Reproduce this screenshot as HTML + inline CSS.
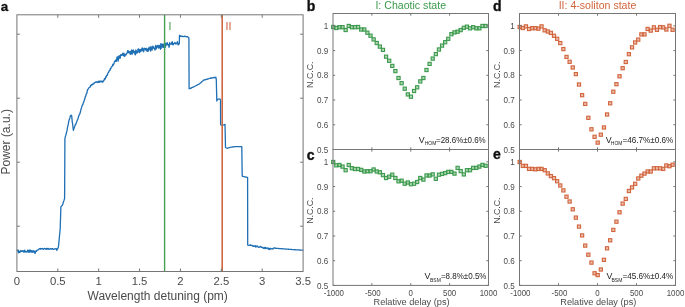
<!DOCTYPE html>
<html><head><meta charset="utf-8"><style>
html,body{margin:0;padding:0;background:#fff;}
svg{display:block;font-family:"Liberation Sans", sans-serif;}
svg{will-change:transform;}
</style></head><body>
<svg width="685" height="307" viewBox="0 0 685 307">
<rect width="685" height="307" fill="#fff"/>
<path d="M16.90,250.33 17.25,250.13 17.60,250.86 17.95,251.10 18.30,250.12 18.65,252.95 19.00,252.15 19.35,251.39 19.70,252.39 20.05,252.26 20.40,251.20 20.75,250.40 21.10,251.55 21.45,251.32 21.80,250.85 22.15,251.02 22.50,251.41 22.85,250.70 23.20,251.70 23.55,251.39 23.90,252.14 24.25,250.67 24.60,250.25 24.95,251.84 25.30,251.08 25.65,251.86 26.00,252.14 26.35,251.69 26.70,251.40 27.05,252.05 27.40,251.14 27.75,250.10 28.10,251.57 28.45,252.00 28.80,250.91 29.15,250.01 29.50,250.37 29.85,252.26 30.20,251.60 30.55,250.15 30.90,251.32 31.25,252.00 31.60,250.65 31.95,250.85 32.30,252.34 32.65,251.09 33.00,251.16 33.35,250.61 33.70,251.80 34.05,252.33 34.40,251.24 34.75,251.64 35.10,253.55 35.45,251.94 35.80,250.95 36.15,250.91 36.50,251.22 36.85,250.43 37.20,250.22 37.55,250.14 37.90,249.87 38.25,249.83 38.60,249.33 38.95,249.06 39.30,248.99 39.65,248.72 40.00,248.76 40.35,248.43 40.70,249.27 41.05,249.01 41.40,248.55 41.75,248.65 42.10,248.75 42.45,248.76 42.80,248.52 43.15,249.25 43.50,249.39 43.85,248.87 44.20,248.88 44.55,248.49 44.90,248.50 45.25,248.74 45.60,248.66 45.95,249.23 46.30,248.56 46.65,248.42 47.00,249.35 47.35,248.93 47.70,248.55 48.05,248.94 48.40,248.43 48.75,248.93 49.10,249.38 49.45,249.26 49.80,249.10 50.15,248.66 50.50,248.77 50.85,248.57 51.20,249.17 51.55,248.93 51.90,249.18 52.25,248.73 52.60,248.62 52.95,249.21 53.30,249.38 53.65,249.25 54.00,249.21 54.35,249.22 54.70,249.14 55.05,248.63 55.40,248.92 55.75,248.76 56.10,248.62 56.45,248.62 56.80,250.27 57.30,249.31 57.80,248.62 58.20,247.37 58.60,245.67 59.05,240.86 59.50,235.79 59.85,232.32 60.20,228.52 60.70,212.70 60.90,206.84 61.30,206.27 61.70,205.72 62.10,205.42 62.50,205.04 62.87,203.87 63.23,202.52 63.60,201.49 64.10,200.13 64.60,198.50 64.80,160.00 64.90,139.00 65.20,137.21 65.63,135.88 66.07,134.28 66.50,132.65 66.93,130.95 67.37,128.08 67.80,126.23 68.23,124.45 68.67,121.85 69.10,119.89 69.53,119.19 69.97,117.65 70.40,115.74 70.83,115.46 71.27,115.25 71.70,115.85 72.30,122.34 72.67,124.21 73.03,127.56 73.40,130.33 73.80,129.00 74.20,127.69 74.60,126.93 75.00,125.49 75.37,124.42 75.74,124.53 76.11,123.24 76.49,122.16 76.86,121.66 77.23,120.17 77.60,119.71 77.97,118.73 78.34,117.13 78.71,116.24 79.09,115.36 79.46,114.37 79.83,113.82 80.20,112.54 80.67,110.84 81.13,108.66 81.60,107.65 81.96,106.11 82.31,105.27 82.67,104.56 83.03,104.21 83.39,102.41 83.74,102.38 84.10,100.70 84.50,99.67 84.90,98.58 85.30,96.58 85.70,96.26 86.10,94.71 86.50,93.31 86.93,93.11 87.37,90.34 87.80,89.25 88.20,89.23 88.60,88.44 89.00,87.55 89.40,87.41 89.80,87.00 90.20,87.00 90.60,85.36 91.00,85.76 91.40,84.78 91.80,84.42 92.20,84.89 92.57,84.15 92.93,83.98 93.30,84.07 93.67,84.08 94.03,82.96 94.40,83.00 94.77,82.54 95.13,82.29 95.50,82.35 95.86,81.86 96.21,81.95 96.57,81.79 96.92,82.57 97.28,82.08 97.63,82.34 97.99,82.41 98.34,81.12 98.70,81.61 99.06,82.37 99.41,82.25 99.77,81.06 100.13,81.10 100.49,81.75 100.84,81.16 101.20,81.53 101.60,81.09 102.00,82.03 102.40,82.09 102.80,82.15 103.20,80.68 103.63,81.02 104.07,80.26 104.50,78.66 104.87,79.35 105.24,78.86 105.61,76.87 105.99,77.54 106.36,75.90 106.73,75.42 107.10,75.68 107.45,74.81 107.81,73.01 108.16,72.90 108.52,72.46 108.87,71.56 109.23,70.71 109.58,70.34 109.94,70.47 110.29,68.62 110.65,68.99 111.00,68.19 111.37,66.78 111.74,66.68 112.11,66.55 112.49,65.69 112.86,64.23 113.23,65.23 113.60,64.22 113.99,63.99 114.37,61.87 114.76,61.61 115.14,60.64 115.53,61.42 115.91,59.94 116.30,61.36 116.67,59.65 117.04,57.15 117.41,56.91 117.79,58.81 118.16,61.15 118.53,57.49 118.90,55.94 119.25,55.65 119.61,56.46 119.96,58.57 120.32,57.56 120.67,54.98 121.03,54.51 121.38,55.44 121.74,55.25 122.09,54.53 122.45,55.19 122.80,53.21 123.17,54.09 123.55,55.77 123.92,53.18 124.30,55.04 124.67,56.40 125.05,55.63 125.42,54.41 125.80,54.62 126.17,54.90 126.55,53.30 126.92,53.49 127.30,52.21 127.68,50.72 128.05,52.41 128.43,50.88 128.81,52.91 129.18,52.09 129.56,52.36 129.94,51.68 130.32,54.43 130.69,51.56 131.07,53.84 131.45,50.17 131.82,50.13 132.20,54.19 132.56,50.93 132.92,52.01 133.28,49.87 133.64,51.41 134.01,52.89 134.37,51.44 134.73,52.33 135.09,54.74 135.45,54.85 135.81,49.93 136.17,53.46 136.53,50.99 136.89,51.57 137.26,51.53 137.62,52.75 137.98,49.12 138.34,49.72 138.70,48.91 139.06,51.19 139.42,52.65 139.78,49.65 140.14,51.23 140.51,51.68 140.87,49.30 141.23,50.56 141.59,50.88 141.95,48.15 142.31,50.20 142.67,48.02 143.03,49.23 143.39,51.73 143.76,51.31 144.12,48.98 144.48,48.23 144.84,48.86 145.20,49.26 145.56,49.96 145.92,48.50 146.28,48.30 146.64,50.43 147.01,51.12 147.37,49.06 147.73,49.33 148.09,51.37 148.45,48.36 148.81,50.26 149.17,47.16 149.53,49.05 149.89,48.16 150.26,47.78 150.62,51.05 150.98,46.32 151.34,48.07 151.70,48.53 152.06,50.00 152.42,48.23 152.78,46.24 153.14,46.34 153.51,48.14 153.87,47.90 154.23,48.36 154.59,48.89 154.95,50.18 155.31,46.66 155.67,45.40 156.03,48.94 156.39,48.87 156.76,46.19 157.12,46.70 157.48,45.40 157.84,47.07 158.20,45.37 158.57,48.13 158.94,46.96 159.31,47.63 159.67,45.30 160.04,47.47 160.41,49.24 160.78,43.70 161.15,48.34 161.52,44.22 161.89,44.10 162.26,44.05 162.62,47.22 162.99,47.31 163.36,44.10 163.73,47.00 164.10,47.52 164.45,43.68 164.80,44.08 165.15,44.96 165.50,47.15 165.85,43.27 166.20,45.09 166.55,43.61 166.90,44.55 167.25,42.61 167.60,43.90 167.95,45.03 168.30,44.50 168.65,44.84 169.00,47.27 169.35,45.93 169.70,42.74 170.05,44.33 170.40,44.35 170.77,44.06 171.14,43.50 171.51,42.79 171.89,44.27 172.26,41.68 172.63,44.55 173.00,44.08 173.37,44.78 173.74,43.50 174.11,43.54 174.49,42.76 174.86,42.58 175.23,43.61 175.60,43.91 175.98,42.81 176.36,43.66 176.73,43.25 177.11,43.77 177.49,41.67 177.87,44.22 178.24,44.84 178.62,44.05 179.30,43.90 179.50,35.30 180.00,35.80 180.50,36.30 181.04,36.05 181.59,36.57 182.13,36.14 182.68,36.31 183.22,36.69 183.77,36.70 184.31,36.20 184.86,36.25 185.40,36.42 185.98,36.67 186.56,36.73 187.14,36.68 187.72,36.94 188.30,37.30 188.90,38.20 189.10,88.70 189.70,88.53 190.30,88.43 190.90,87.87 191.50,88.07 192.05,87.44 192.60,87.42 193.15,87.13 193.70,86.90 194.25,86.47 194.80,86.26 195.40,86.02 196.00,85.61 196.60,85.40 197.20,84.97 197.73,84.74 198.27,84.30 198.80,84.36 199.30,83.87 199.80,83.33 200.30,83.17 200.80,82.76 201.30,82.18 201.90,81.56 202.50,81.24 203.10,80.58 203.70,80.11 204.21,80.10 204.72,79.77 205.24,79.78 205.75,79.66 206.26,79.26 206.78,79.39 207.29,78.95 207.80,79.12 208.31,78.99 208.83,78.71 209.34,78.33 209.85,78.40 210.36,78.19 210.88,78.33 211.39,77.77 211.90,77.98 212.40,77.99 212.90,77.79 213.40,77.77 213.90,77.40 214.40,77.73 214.90,77.42 215.40,77.59 215.90,77.30 216.30,79.80 216.80,101.00 217.60,99.30 218.20,99.22 218.80,99.15 219.40,99.08 220.00,99.00 220.50,100.00 220.60,124.70 221.13,124.97 221.67,125.23 222.20,125.50 222.76,125.26 223.32,125.02 223.88,124.78 224.44,124.54 225.00,124.30 225.50,147.50 226.03,147.77 226.57,148.03 227.10,148.30 227.61,148.15 228.12,148.00 228.64,147.85 229.15,147.70 229.66,147.55 230.17,147.40 230.69,147.25 231.20,147.10 231.73,147.04 232.27,146.99 232.80,146.93 233.33,146.88 233.87,146.82 234.40,146.77 234.93,146.71 235.47,146.66 236.00,146.60 236.53,146.60 237.05,146.60 237.58,146.60 238.11,146.60 238.64,146.60 239.16,146.60 239.69,146.60 240.22,146.60 240.75,146.60 241.27,146.60 241.80,146.60 242.20,176.10 242.70,176.26 243.20,176.42 243.70,176.58 244.20,176.74 244.70,176.90 245.28,177.00 245.86,177.10 246.44,177.20 247.02,177.30 247.60,177.40 247.70,245.10 248.20,245.19 248.70,245.28 249.20,245.37 249.70,245.46 250.20,244.76 250.70,245.41 251.20,245.11 251.70,245.60 252.20,245.48 252.70,246.14 253.20,246.24 253.73,245.70 254.26,246.44 254.79,246.27 255.32,245.79 255.85,247.14 256.38,246.11 256.92,246.02 257.45,246.01 257.98,246.94 258.51,247.39 259.04,247.31 259.57,246.77 260.10,246.62 260.60,246.32 261.10,247.43 261.60,247.40 262.10,247.16 262.60,247.73 263.10,247.51 263.60,248.40 264.10,248.17 264.60,247.50 265.11,248.67 265.62,247.41 266.13,248.32 266.64,248.24 267.16,248.09 267.67,247.93 268.18,249.20 268.69,248.10 269.20,249.08 269.72,249.65 270.25,248.32 270.77,248.36 271.29,248.96 271.82,248.74 272.34,248.90 272.86,249.12 273.38,248.05 273.91,248.21 274.43,248.14 274.95,247.69 275.48,248.35 276.00,248.30 276.51,248.34 277.02,248.38 277.53,248.42 278.04,248.46 278.56,248.49 279.07,248.53 279.58,248.57 280.09,248.61 280.60,248.65 281.11,248.69 281.62,248.73 282.13,248.77 282.64,248.81 283.16,248.84 283.67,248.88 284.18,248.92 284.69,248.96 285.20,249.00 285.71,249.04 286.21,249.08 286.72,249.12 287.22,249.16 287.73,249.19 288.23,249.23 288.74,249.27 289.24,249.31 289.75,249.35 290.26,249.39 290.76,249.43 291.27,249.47 291.77,249.51 292.28,249.54 292.78,249.58 293.29,249.62 293.79,249.66 294.30,249.70 294.80,249.73 295.30,249.76 295.80,249.78 296.30,249.81 296.80,249.84 297.30,249.87 297.80,249.89 298.30,249.92 298.80,249.95 299.30,249.98 299.80,250.01 300.30,250.03 300.80,250.06 301.30,250.09 301.80,250.12 302.30,250.14 302.80,250.17 303.30,250.20" fill="none" stroke="#1f6fb5" stroke-width="1.3" stroke-linejoin="round"/>
<line x1="164.6" y1="14.8" x2="164.6" y2="271.5" stroke="#44a052" stroke-width="1.4"/>
<line x1="222.2" y1="14.8" x2="222.2" y2="271.5" stroke="#cf6642" stroke-width="1.6"/>
<text x="168.6" y="29.8" font-size="10.5" fill="#3b9a4c">I</text>
<text x="225.6" y="29.8" font-size="10.5" fill="#cc5c38">II</text>
<rect x="16.9" y="14.8" width="286.20000000000005" height="256.7" fill="none" stroke="#767676" stroke-width="1"/>
<line x1="57.79" y1="271.5" x2="57.79" y2="268.5" stroke="#767676" stroke-width="1"/>
<line x1="57.79" y1="14.8" x2="57.79" y2="17.8" stroke="#767676" stroke-width="1"/>
<line x1="98.67" y1="271.5" x2="98.67" y2="268.5" stroke="#767676" stroke-width="1"/>
<line x1="98.67" y1="14.8" x2="98.67" y2="17.8" stroke="#767676" stroke-width="1"/>
<line x1="139.56" y1="271.5" x2="139.56" y2="268.5" stroke="#767676" stroke-width="1"/>
<line x1="139.56" y1="14.8" x2="139.56" y2="17.8" stroke="#767676" stroke-width="1"/>
<line x1="180.44" y1="271.5" x2="180.44" y2="268.5" stroke="#767676" stroke-width="1"/>
<line x1="180.44" y1="14.8" x2="180.44" y2="17.8" stroke="#767676" stroke-width="1"/>
<line x1="221.33" y1="271.5" x2="221.33" y2="268.5" stroke="#767676" stroke-width="1"/>
<line x1="221.33" y1="14.8" x2="221.33" y2="17.8" stroke="#767676" stroke-width="1"/>
<line x1="262.21" y1="271.5" x2="262.21" y2="268.5" stroke="#767676" stroke-width="1"/>
<line x1="262.21" y1="14.8" x2="262.21" y2="17.8" stroke="#767676" stroke-width="1"/>
<line x1="16.9" y1="34.2" x2="19.9" y2="34.2" stroke="#767676" stroke-width="1"/>
<line x1="303.1" y1="34.2" x2="300.1" y2="34.2" stroke="#767676" stroke-width="1"/>
<line x1="16.9" y1="98.2" x2="19.9" y2="98.2" stroke="#767676" stroke-width="1"/>
<line x1="303.1" y1="98.2" x2="300.1" y2="98.2" stroke="#767676" stroke-width="1"/>
<line x1="16.9" y1="162.2" x2="19.9" y2="162.2" stroke="#767676" stroke-width="1"/>
<line x1="303.1" y1="162.2" x2="300.1" y2="162.2" stroke="#767676" stroke-width="1"/>
<line x1="16.9" y1="226.2" x2="19.9" y2="226.2" stroke="#767676" stroke-width="1"/>
<line x1="303.1" y1="226.2" x2="300.1" y2="226.2" stroke="#767676" stroke-width="1"/>
<text x="16.90" y="285.3" font-size="11.3" fill="#4a4a4a" text-anchor="middle">0</text>
<text x="57.79" y="285.3" font-size="11.3" fill="#4a4a4a" text-anchor="middle">0.5</text>
<text x="98.67" y="285.3" font-size="11.3" fill="#4a4a4a" text-anchor="middle">1</text>
<text x="139.56" y="285.3" font-size="11.3" fill="#4a4a4a" text-anchor="middle">1.5</text>
<text x="180.44" y="285.3" font-size="11.3" fill="#4a4a4a" text-anchor="middle">2</text>
<text x="221.33" y="285.3" font-size="11.3" fill="#4a4a4a" text-anchor="middle">2.5</text>
<text x="262.21" y="285.3" font-size="11.3" fill="#4a4a4a" text-anchor="middle">3</text>
<text x="303.10" y="285.3" font-size="11.3" fill="#4a4a4a" text-anchor="middle">3.5</text>
<text x="157.7" y="299.9" font-size="12" fill="#4a4a4a" text-anchor="middle">Wavelength detuning (pm)</text>
<text transform="translate(9.5,141.8) rotate(-90)" font-size="12" fill="#4a4a4a" text-anchor="middle">Power (a.u.)</text>
<text x="0.8" y="10.7" font-size="13.4" font-weight="bold" fill="#111" stroke="#111" stroke-width="0.3">a</text>
<rect x="331.60" y="25.40" width="3.2" height="3.2" fill="#3b9a4c" fill-opacity="0.42" stroke="#3b9a4c" stroke-width="1.1"/>
<rect x="334.71" y="26.40" width="3.2" height="3.2" fill="#3b9a4c" fill-opacity="0.42" stroke="#3b9a4c" stroke-width="1.1"/>
<rect x="337.82" y="25.60" width="3.2" height="3.2" fill="#3b9a4c" fill-opacity="0.42" stroke="#3b9a4c" stroke-width="1.1"/>
<rect x="340.93" y="25.60" width="3.2" height="3.2" fill="#3b9a4c" fill-opacity="0.42" stroke="#3b9a4c" stroke-width="1.1"/>
<rect x="344.04" y="28.40" width="3.2" height="3.2" fill="#3b9a4c" fill-opacity="0.42" stroke="#3b9a4c" stroke-width="1.1"/>
<rect x="347.15" y="24.40" width="3.2" height="3.2" fill="#3b9a4c" fill-opacity="0.42" stroke="#3b9a4c" stroke-width="1.1"/>
<rect x="350.26" y="25.60" width="3.2" height="3.2" fill="#3b9a4c" fill-opacity="0.42" stroke="#3b9a4c" stroke-width="1.1"/>
<rect x="353.37" y="25.60" width="3.2" height="3.2" fill="#3b9a4c" fill-opacity="0.42" stroke="#3b9a4c" stroke-width="1.1"/>
<rect x="356.48" y="25.40" width="3.2" height="3.2" fill="#3b9a4c" fill-opacity="0.42" stroke="#3b9a4c" stroke-width="1.1"/>
<rect x="359.59" y="27.90" width="3.2" height="3.2" fill="#3b9a4c" fill-opacity="0.42" stroke="#3b9a4c" stroke-width="1.1"/>
<rect x="362.70" y="27.90" width="3.2" height="3.2" fill="#3b9a4c" fill-opacity="0.42" stroke="#3b9a4c" stroke-width="1.1"/>
<rect x="365.81" y="31.10" width="3.2" height="3.2" fill="#3b9a4c" fill-opacity="0.42" stroke="#3b9a4c" stroke-width="1.1"/>
<rect x="368.92" y="34.10" width="3.2" height="3.2" fill="#3b9a4c" fill-opacity="0.42" stroke="#3b9a4c" stroke-width="1.1"/>
<rect x="372.03" y="37.80" width="3.2" height="3.2" fill="#3b9a4c" fill-opacity="0.42" stroke="#3b9a4c" stroke-width="1.1"/>
<rect x="375.14" y="41.40" width="3.2" height="3.2" fill="#3b9a4c" fill-opacity="0.42" stroke="#3b9a4c" stroke-width="1.1"/>
<rect x="378.25" y="45.00" width="3.2" height="3.2" fill="#3b9a4c" fill-opacity="0.42" stroke="#3b9a4c" stroke-width="1.1"/>
<rect x="381.36" y="48.30" width="3.2" height="3.2" fill="#3b9a4c" fill-opacity="0.42" stroke="#3b9a4c" stroke-width="1.1"/>
<rect x="384.47" y="55.10" width="3.2" height="3.2" fill="#3b9a4c" fill-opacity="0.42" stroke="#3b9a4c" stroke-width="1.1"/>
<rect x="387.58" y="59.20" width="3.2" height="3.2" fill="#3b9a4c" fill-opacity="0.42" stroke="#3b9a4c" stroke-width="1.1"/>
<rect x="390.69" y="64.30" width="3.2" height="3.2" fill="#3b9a4c" fill-opacity="0.42" stroke="#3b9a4c" stroke-width="1.1"/>
<rect x="393.80" y="69.50" width="3.2" height="3.2" fill="#3b9a4c" fill-opacity="0.42" stroke="#3b9a4c" stroke-width="1.1"/>
<rect x="396.91" y="76.40" width="3.2" height="3.2" fill="#3b9a4c" fill-opacity="0.42" stroke="#3b9a4c" stroke-width="1.1"/>
<rect x="400.02" y="81.60" width="3.2" height="3.2" fill="#3b9a4c" fill-opacity="0.42" stroke="#3b9a4c" stroke-width="1.1"/>
<rect x="403.13" y="87.10" width="3.2" height="3.2" fill="#3b9a4c" fill-opacity="0.42" stroke="#3b9a4c" stroke-width="1.1"/>
<rect x="406.24" y="92.80" width="3.2" height="3.2" fill="#3b9a4c" fill-opacity="0.42" stroke="#3b9a4c" stroke-width="1.1"/>
<rect x="409.35" y="95.10" width="3.2" height="3.2" fill="#3b9a4c" fill-opacity="0.42" stroke="#3b9a4c" stroke-width="1.1"/>
<rect x="412.46" y="89.40" width="3.2" height="3.2" fill="#3b9a4c" fill-opacity="0.42" stroke="#3b9a4c" stroke-width="1.1"/>
<rect x="415.57" y="85.70" width="3.2" height="3.2" fill="#3b9a4c" fill-opacity="0.42" stroke="#3b9a4c" stroke-width="1.1"/>
<rect x="418.68" y="79.80" width="3.2" height="3.2" fill="#3b9a4c" fill-opacity="0.42" stroke="#3b9a4c" stroke-width="1.1"/>
<rect x="421.79" y="76.40" width="3.2" height="3.2" fill="#3b9a4c" fill-opacity="0.42" stroke="#3b9a4c" stroke-width="1.1"/>
<rect x="424.90" y="68.40" width="3.2" height="3.2" fill="#3b9a4c" fill-opacity="0.42" stroke="#3b9a4c" stroke-width="1.1"/>
<rect x="428.01" y="62.30" width="3.2" height="3.2" fill="#3b9a4c" fill-opacity="0.42" stroke="#3b9a4c" stroke-width="1.1"/>
<rect x="431.12" y="57.00" width="3.2" height="3.2" fill="#3b9a4c" fill-opacity="0.42" stroke="#3b9a4c" stroke-width="1.1"/>
<rect x="434.23" y="52.50" width="3.2" height="3.2" fill="#3b9a4c" fill-opacity="0.42" stroke="#3b9a4c" stroke-width="1.1"/>
<rect x="437.34" y="47.90" width="3.2" height="3.2" fill="#3b9a4c" fill-opacity="0.42" stroke="#3b9a4c" stroke-width="1.1"/>
<rect x="440.45" y="44.00" width="3.2" height="3.2" fill="#3b9a4c" fill-opacity="0.42" stroke="#3b9a4c" stroke-width="1.1"/>
<rect x="443.56" y="40.60" width="3.2" height="3.2" fill="#3b9a4c" fill-opacity="0.42" stroke="#3b9a4c" stroke-width="1.1"/>
<rect x="446.67" y="37.20" width="3.2" height="3.2" fill="#3b9a4c" fill-opacity="0.42" stroke="#3b9a4c" stroke-width="1.1"/>
<rect x="449.78" y="32.60" width="3.2" height="3.2" fill="#3b9a4c" fill-opacity="0.42" stroke="#3b9a4c" stroke-width="1.1"/>
<rect x="452.89" y="30.80" width="3.2" height="3.2" fill="#3b9a4c" fill-opacity="0.42" stroke="#3b9a4c" stroke-width="1.1"/>
<rect x="456.00" y="30.10" width="3.2" height="3.2" fill="#3b9a4c" fill-opacity="0.42" stroke="#3b9a4c" stroke-width="1.1"/>
<rect x="459.11" y="28.50" width="3.2" height="3.2" fill="#3b9a4c" fill-opacity="0.42" stroke="#3b9a4c" stroke-width="1.1"/>
<rect x="462.22" y="26.20" width="3.2" height="3.2" fill="#3b9a4c" fill-opacity="0.42" stroke="#3b9a4c" stroke-width="1.1"/>
<rect x="465.33" y="25.10" width="3.2" height="3.2" fill="#3b9a4c" fill-opacity="0.42" stroke="#3b9a4c" stroke-width="1.1"/>
<rect x="468.44" y="26.70" width="3.2" height="3.2" fill="#3b9a4c" fill-opacity="0.42" stroke="#3b9a4c" stroke-width="1.1"/>
<rect x="471.55" y="25.60" width="3.2" height="3.2" fill="#3b9a4c" fill-opacity="0.42" stroke="#3b9a4c" stroke-width="1.1"/>
<rect x="474.66" y="26.70" width="3.2" height="3.2" fill="#3b9a4c" fill-opacity="0.42" stroke="#3b9a4c" stroke-width="1.1"/>
<rect x="477.77" y="26.70" width="3.2" height="3.2" fill="#3b9a4c" fill-opacity="0.42" stroke="#3b9a4c" stroke-width="1.1"/>
<rect x="480.88" y="24.40" width="3.2" height="3.2" fill="#3b9a4c" fill-opacity="0.42" stroke="#3b9a4c" stroke-width="1.1"/>
<rect x="483.99" y="24.40" width="3.2" height="3.2" fill="#3b9a4c" fill-opacity="0.42" stroke="#3b9a4c" stroke-width="1.1"/>
<rect x="333.0" y="13.5" width="155.5" height="136.0" fill="none" stroke="#767676" stroke-width="1"/>
<line x1="371.88" y1="149.5" x2="371.88" y2="147.3" stroke="#767676" stroke-width="1"/>
<line x1="371.88" y1="13.5" x2="371.88" y2="15.7" stroke="#767676" stroke-width="1"/>
<line x1="410.75" y1="149.5" x2="410.75" y2="147.3" stroke="#767676" stroke-width="1"/>
<line x1="410.75" y1="13.5" x2="410.75" y2="15.7" stroke="#767676" stroke-width="1"/>
<line x1="449.62" y1="149.5" x2="449.62" y2="147.3" stroke="#767676" stroke-width="1"/>
<line x1="449.62" y1="13.5" x2="449.62" y2="15.7" stroke="#767676" stroke-width="1"/>
<line x1="333.0" y1="149.50" x2="335.2" y2="149.50" stroke="#767676" stroke-width="1"/>
<line x1="488.5" y1="149.50" x2="486.3" y2="149.50" stroke="#767676" stroke-width="1"/>
<text transform="translate(328.20,152.60) scale(0.95,1)" font-size="8.5" fill="#4a4a4a" text-anchor="end">0.5</text>
<line x1="333.0" y1="124.77" x2="335.2" y2="124.77" stroke="#767676" stroke-width="1"/>
<line x1="488.5" y1="124.77" x2="486.3" y2="124.77" stroke="#767676" stroke-width="1"/>
<text transform="translate(328.20,127.87) scale(0.95,1)" font-size="8.5" fill="#4a4a4a" text-anchor="end">0.6</text>
<line x1="333.0" y1="100.05" x2="335.2" y2="100.05" stroke="#767676" stroke-width="1"/>
<line x1="488.5" y1="100.05" x2="486.3" y2="100.05" stroke="#767676" stroke-width="1"/>
<text transform="translate(328.20,103.15) scale(0.95,1)" font-size="8.5" fill="#4a4a4a" text-anchor="end">0.7</text>
<line x1="333.0" y1="75.32" x2="335.2" y2="75.32" stroke="#767676" stroke-width="1"/>
<line x1="488.5" y1="75.32" x2="486.3" y2="75.32" stroke="#767676" stroke-width="1"/>
<text transform="translate(328.20,78.42) scale(0.95,1)" font-size="8.5" fill="#4a4a4a" text-anchor="end">0.8</text>
<line x1="333.0" y1="50.59" x2="335.2" y2="50.59" stroke="#767676" stroke-width="1"/>
<line x1="488.5" y1="50.59" x2="486.3" y2="50.59" stroke="#767676" stroke-width="1"/>
<text transform="translate(328.20,53.69) scale(0.95,1)" font-size="8.5" fill="#4a4a4a" text-anchor="end">0.9</text>
<line x1="333.0" y1="25.86" x2="335.2" y2="25.86" stroke="#767676" stroke-width="1"/>
<line x1="488.5" y1="25.86" x2="486.3" y2="25.86" stroke="#767676" stroke-width="1"/>
<text transform="translate(328.20,28.96) scale(0.95,1)" font-size="8.5" fill="#4a4a4a" text-anchor="end">1</text>
<text transform="translate(313.00,74.70) rotate(-90)" font-size="8.8" fill="#4a4a4a" text-anchor="middle">N.C.C.</text>
<text x="418.80" y="142.7" font-size="8.9" fill="#222">V</text>
<text x="424.70" y="145.30" font-size="4.5" fill="#222" textLength="11.60" lengthAdjust="spacingAndGlyphs">HOM</text>
<text x="436.00" y="142.7" font-size="8.9" fill="#222" textLength="49.70" lengthAdjust="spacingAndGlyphs">=28.6%±0.6%</text>
<rect x="331.60" y="160.40" width="3.2" height="3.2" fill="#3b9a4c" fill-opacity="0.42" stroke="#3b9a4c" stroke-width="1.1"/>
<rect x="334.71" y="163.70" width="3.2" height="3.2" fill="#3b9a4c" fill-opacity="0.42" stroke="#3b9a4c" stroke-width="1.1"/>
<rect x="337.82" y="163.40" width="3.2" height="3.2" fill="#3b9a4c" fill-opacity="0.42" stroke="#3b9a4c" stroke-width="1.1"/>
<rect x="340.93" y="165.00" width="3.2" height="3.2" fill="#3b9a4c" fill-opacity="0.42" stroke="#3b9a4c" stroke-width="1.1"/>
<rect x="344.04" y="168.60" width="3.2" height="3.2" fill="#3b9a4c" fill-opacity="0.42" stroke="#3b9a4c" stroke-width="1.1"/>
<rect x="347.15" y="163.40" width="3.2" height="3.2" fill="#3b9a4c" fill-opacity="0.42" stroke="#3b9a4c" stroke-width="1.1"/>
<rect x="350.26" y="166.60" width="3.2" height="3.2" fill="#3b9a4c" fill-opacity="0.42" stroke="#3b9a4c" stroke-width="1.1"/>
<rect x="353.37" y="167.40" width="3.2" height="3.2" fill="#3b9a4c" fill-opacity="0.42" stroke="#3b9a4c" stroke-width="1.1"/>
<rect x="356.48" y="167.40" width="3.2" height="3.2" fill="#3b9a4c" fill-opacity="0.42" stroke="#3b9a4c" stroke-width="1.1"/>
<rect x="359.59" y="168.30" width="3.2" height="3.2" fill="#3b9a4c" fill-opacity="0.42" stroke="#3b9a4c" stroke-width="1.1"/>
<rect x="362.70" y="169.90" width="3.2" height="3.2" fill="#3b9a4c" fill-opacity="0.42" stroke="#3b9a4c" stroke-width="1.1"/>
<rect x="365.81" y="169.60" width="3.2" height="3.2" fill="#3b9a4c" fill-opacity="0.42" stroke="#3b9a4c" stroke-width="1.1"/>
<rect x="368.92" y="169.60" width="3.2" height="3.2" fill="#3b9a4c" fill-opacity="0.42" stroke="#3b9a4c" stroke-width="1.1"/>
<rect x="372.03" y="167.90" width="3.2" height="3.2" fill="#3b9a4c" fill-opacity="0.42" stroke="#3b9a4c" stroke-width="1.1"/>
<rect x="375.14" y="169.90" width="3.2" height="3.2" fill="#3b9a4c" fill-opacity="0.42" stroke="#3b9a4c" stroke-width="1.1"/>
<rect x="378.25" y="170.70" width="3.2" height="3.2" fill="#3b9a4c" fill-opacity="0.42" stroke="#3b9a4c" stroke-width="1.1"/>
<rect x="381.36" y="173.50" width="3.2" height="3.2" fill="#3b9a4c" fill-opacity="0.42" stroke="#3b9a4c" stroke-width="1.1"/>
<rect x="384.47" y="176.40" width="3.2" height="3.2" fill="#3b9a4c" fill-opacity="0.42" stroke="#3b9a4c" stroke-width="1.1"/>
<rect x="387.58" y="175.10" width="3.2" height="3.2" fill="#3b9a4c" fill-opacity="0.42" stroke="#3b9a4c" stroke-width="1.1"/>
<rect x="390.69" y="173.10" width="3.2" height="3.2" fill="#3b9a4c" fill-opacity="0.42" stroke="#3b9a4c" stroke-width="1.1"/>
<rect x="393.80" y="176.40" width="3.2" height="3.2" fill="#3b9a4c" fill-opacity="0.42" stroke="#3b9a4c" stroke-width="1.1"/>
<rect x="396.91" y="179.70" width="3.2" height="3.2" fill="#3b9a4c" fill-opacity="0.42" stroke="#3b9a4c" stroke-width="1.1"/>
<rect x="400.02" y="179.10" width="3.2" height="3.2" fill="#3b9a4c" fill-opacity="0.42" stroke="#3b9a4c" stroke-width="1.1"/>
<rect x="403.13" y="182.10" width="3.2" height="3.2" fill="#3b9a4c" fill-opacity="0.42" stroke="#3b9a4c" stroke-width="1.1"/>
<rect x="406.24" y="180.90" width="3.2" height="3.2" fill="#3b9a4c" fill-opacity="0.42" stroke="#3b9a4c" stroke-width="1.1"/>
<rect x="409.35" y="182.60" width="3.2" height="3.2" fill="#3b9a4c" fill-opacity="0.42" stroke="#3b9a4c" stroke-width="1.1"/>
<rect x="412.46" y="182.10" width="3.2" height="3.2" fill="#3b9a4c" fill-opacity="0.42" stroke="#3b9a4c" stroke-width="1.1"/>
<rect x="415.57" y="180.40" width="3.2" height="3.2" fill="#3b9a4c" fill-opacity="0.42" stroke="#3b9a4c" stroke-width="1.1"/>
<rect x="418.68" y="176.40" width="3.2" height="3.2" fill="#3b9a4c" fill-opacity="0.42" stroke="#3b9a4c" stroke-width="1.1"/>
<rect x="421.79" y="178.00" width="3.2" height="3.2" fill="#3b9a4c" fill-opacity="0.42" stroke="#3b9a4c" stroke-width="1.1"/>
<rect x="424.90" y="173.90" width="3.2" height="3.2" fill="#3b9a4c" fill-opacity="0.42" stroke="#3b9a4c" stroke-width="1.1"/>
<rect x="428.01" y="173.90" width="3.2" height="3.2" fill="#3b9a4c" fill-opacity="0.42" stroke="#3b9a4c" stroke-width="1.1"/>
<rect x="431.12" y="172.80" width="3.2" height="3.2" fill="#3b9a4c" fill-opacity="0.42" stroke="#3b9a4c" stroke-width="1.1"/>
<rect x="434.23" y="177.20" width="3.2" height="3.2" fill="#3b9a4c" fill-opacity="0.42" stroke="#3b9a4c" stroke-width="1.1"/>
<rect x="437.34" y="173.10" width="3.2" height="3.2" fill="#3b9a4c" fill-opacity="0.42" stroke="#3b9a4c" stroke-width="1.1"/>
<rect x="440.45" y="172.30" width="3.2" height="3.2" fill="#3b9a4c" fill-opacity="0.42" stroke="#3b9a4c" stroke-width="1.1"/>
<rect x="443.56" y="171.50" width="3.2" height="3.2" fill="#3b9a4c" fill-opacity="0.42" stroke="#3b9a4c" stroke-width="1.1"/>
<rect x="446.67" y="170.30" width="3.2" height="3.2" fill="#3b9a4c" fill-opacity="0.42" stroke="#3b9a4c" stroke-width="1.1"/>
<rect x="449.78" y="170.30" width="3.2" height="3.2" fill="#3b9a4c" fill-opacity="0.42" stroke="#3b9a4c" stroke-width="1.1"/>
<rect x="452.89" y="172.00" width="3.2" height="3.2" fill="#3b9a4c" fill-opacity="0.42" stroke="#3b9a4c" stroke-width="1.1"/>
<rect x="456.00" y="166.30" width="3.2" height="3.2" fill="#3b9a4c" fill-opacity="0.42" stroke="#3b9a4c" stroke-width="1.1"/>
<rect x="459.11" y="169.50" width="3.2" height="3.2" fill="#3b9a4c" fill-opacity="0.42" stroke="#3b9a4c" stroke-width="1.1"/>
<rect x="462.22" y="172.80" width="3.2" height="3.2" fill="#3b9a4c" fill-opacity="0.42" stroke="#3b9a4c" stroke-width="1.1"/>
<rect x="465.33" y="168.60" width="3.2" height="3.2" fill="#3b9a4c" fill-opacity="0.42" stroke="#3b9a4c" stroke-width="1.1"/>
<rect x="468.44" y="168.60" width="3.2" height="3.2" fill="#3b9a4c" fill-opacity="0.42" stroke="#3b9a4c" stroke-width="1.1"/>
<rect x="471.55" y="166.30" width="3.2" height="3.2" fill="#3b9a4c" fill-opacity="0.42" stroke="#3b9a4c" stroke-width="1.1"/>
<rect x="474.66" y="166.30" width="3.2" height="3.2" fill="#3b9a4c" fill-opacity="0.42" stroke="#3b9a4c" stroke-width="1.1"/>
<rect x="477.77" y="165.00" width="3.2" height="3.2" fill="#3b9a4c" fill-opacity="0.42" stroke="#3b9a4c" stroke-width="1.1"/>
<rect x="480.88" y="163.30" width="3.2" height="3.2" fill="#3b9a4c" fill-opacity="0.42" stroke="#3b9a4c" stroke-width="1.1"/>
<rect x="483.99" y="164.20" width="3.2" height="3.2" fill="#3b9a4c" fill-opacity="0.42" stroke="#3b9a4c" stroke-width="1.1"/>
<rect x="333.0" y="149.5" width="155.5" height="135.89999999999998" fill="none" stroke="#767676" stroke-width="1"/>
<line x1="371.88" y1="285.4" x2="371.88" y2="283.2" stroke="#767676" stroke-width="1"/>
<line x1="371.88" y1="149.5" x2="371.88" y2="151.7" stroke="#767676" stroke-width="1"/>
<line x1="410.75" y1="285.4" x2="410.75" y2="283.2" stroke="#767676" stroke-width="1"/>
<line x1="410.75" y1="149.5" x2="410.75" y2="151.7" stroke="#767676" stroke-width="1"/>
<line x1="449.62" y1="285.4" x2="449.62" y2="283.2" stroke="#767676" stroke-width="1"/>
<line x1="449.62" y1="149.5" x2="449.62" y2="151.7" stroke="#767676" stroke-width="1"/>
<line x1="333.0" y1="285.40" x2="335.2" y2="285.40" stroke="#767676" stroke-width="1"/>
<line x1="488.5" y1="285.40" x2="486.3" y2="285.40" stroke="#767676" stroke-width="1"/>
<text transform="translate(328.20,288.50) scale(0.95,1)" font-size="8.5" fill="#4a4a4a" text-anchor="end">0.5</text>
<line x1="333.0" y1="260.69" x2="335.2" y2="260.69" stroke="#767676" stroke-width="1"/>
<line x1="488.5" y1="260.69" x2="486.3" y2="260.69" stroke="#767676" stroke-width="1"/>
<text transform="translate(328.20,263.79) scale(0.95,1)" font-size="8.5" fill="#4a4a4a" text-anchor="end">0.6</text>
<line x1="333.0" y1="235.98" x2="335.2" y2="235.98" stroke="#767676" stroke-width="1"/>
<line x1="488.5" y1="235.98" x2="486.3" y2="235.98" stroke="#767676" stroke-width="1"/>
<text transform="translate(328.20,239.08) scale(0.95,1)" font-size="8.5" fill="#4a4a4a" text-anchor="end">0.7</text>
<line x1="333.0" y1="211.27" x2="335.2" y2="211.27" stroke="#767676" stroke-width="1"/>
<line x1="488.5" y1="211.27" x2="486.3" y2="211.27" stroke="#767676" stroke-width="1"/>
<text transform="translate(328.20,214.37) scale(0.95,1)" font-size="8.5" fill="#4a4a4a" text-anchor="end">0.8</text>
<line x1="333.0" y1="186.56" x2="335.2" y2="186.56" stroke="#767676" stroke-width="1"/>
<line x1="488.5" y1="186.56" x2="486.3" y2="186.56" stroke="#767676" stroke-width="1"/>
<text transform="translate(328.20,189.66) scale(0.95,1)" font-size="8.5" fill="#4a4a4a" text-anchor="end">0.9</text>
<line x1="333.0" y1="161.85" x2="335.2" y2="161.85" stroke="#767676" stroke-width="1"/>
<line x1="488.5" y1="161.85" x2="486.3" y2="161.85" stroke="#767676" stroke-width="1"/>
<text transform="translate(328.20,164.95) scale(0.95,1)" font-size="8.5" fill="#4a4a4a" text-anchor="end">1</text>
<text transform="translate(333.90,295.8) scale(0.93,1)" font-size="8.5" fill="#4a4a4a" text-anchor="middle">-1000</text>
<text transform="translate(372.77,295.8) scale(0.93,1)" font-size="8.5" fill="#4a4a4a" text-anchor="middle">-500</text>
<text transform="translate(410.75,295.8) scale(0.93,1)" font-size="8.5" fill="#4a4a4a" text-anchor="middle">0</text>
<text transform="translate(449.62,295.8) scale(0.93,1)" font-size="8.5" fill="#4a4a4a" text-anchor="middle">500</text>
<text transform="translate(488.50,295.8) scale(0.93,1)" font-size="8.5" fill="#4a4a4a" text-anchor="middle">1000</text>
<text x="411.55" y="304.7" font-size="9.2" fill="#4a4a4a" text-anchor="middle">Relative delay (ps)</text>
<text transform="translate(313.00,210.65) rotate(-90)" font-size="8.8" fill="#4a4a4a" text-anchor="middle">N.C.C.</text>
<text x="424.60" y="278.9" font-size="8.9" fill="#222">V</text>
<text x="430.00" y="281.50" font-size="4.5" fill="#222" textLength="10.90" lengthAdjust="spacingAndGlyphs">BSM</text>
<text x="440.90" y="278.9" font-size="8.9" fill="#222" textLength="45.60" lengthAdjust="spacingAndGlyphs">=8.8%±0.5%</text>
<rect x="518.10" y="25.40" width="3.2" height="3.2" fill="#d2643c" fill-opacity="0.42" stroke="#d2643c" stroke-width="1.1"/>
<rect x="521.22" y="26.40" width="3.2" height="3.2" fill="#d2643c" fill-opacity="0.42" stroke="#d2643c" stroke-width="1.1"/>
<rect x="524.34" y="24.80" width="3.2" height="3.2" fill="#d2643c" fill-opacity="0.42" stroke="#d2643c" stroke-width="1.1"/>
<rect x="527.46" y="27.40" width="3.2" height="3.2" fill="#d2643c" fill-opacity="0.42" stroke="#d2643c" stroke-width="1.1"/>
<rect x="530.58" y="26.60" width="3.2" height="3.2" fill="#d2643c" fill-opacity="0.42" stroke="#d2643c" stroke-width="1.1"/>
<rect x="533.70" y="26.60" width="3.2" height="3.2" fill="#d2643c" fill-opacity="0.42" stroke="#d2643c" stroke-width="1.1"/>
<rect x="536.82" y="27.00" width="3.2" height="3.2" fill="#d2643c" fill-opacity="0.42" stroke="#d2643c" stroke-width="1.1"/>
<rect x="539.94" y="24.80" width="3.2" height="3.2" fill="#d2643c" fill-opacity="0.42" stroke="#d2643c" stroke-width="1.1"/>
<rect x="543.06" y="28.70" width="3.2" height="3.2" fill="#d2643c" fill-opacity="0.42" stroke="#d2643c" stroke-width="1.1"/>
<rect x="546.18" y="29.90" width="3.2" height="3.2" fill="#d2643c" fill-opacity="0.42" stroke="#d2643c" stroke-width="1.1"/>
<rect x="549.30" y="31.30" width="3.2" height="3.2" fill="#d2643c" fill-opacity="0.42" stroke="#d2643c" stroke-width="1.1"/>
<rect x="552.42" y="34.20" width="3.2" height="3.2" fill="#d2643c" fill-opacity="0.42" stroke="#d2643c" stroke-width="1.1"/>
<rect x="555.54" y="37.20" width="3.2" height="3.2" fill="#d2643c" fill-opacity="0.42" stroke="#d2643c" stroke-width="1.1"/>
<rect x="558.66" y="41.50" width="3.2" height="3.2" fill="#d2643c" fill-opacity="0.42" stroke="#d2643c" stroke-width="1.1"/>
<rect x="561.78" y="47.50" width="3.2" height="3.2" fill="#d2643c" fill-opacity="0.42" stroke="#d2643c" stroke-width="1.1"/>
<rect x="564.90" y="55.30" width="3.2" height="3.2" fill="#d2643c" fill-opacity="0.42" stroke="#d2643c" stroke-width="1.1"/>
<rect x="568.02" y="60.20" width="3.2" height="3.2" fill="#d2643c" fill-opacity="0.42" stroke="#d2643c" stroke-width="1.1"/>
<rect x="571.14" y="65.90" width="3.2" height="3.2" fill="#d2643c" fill-opacity="0.42" stroke="#d2643c" stroke-width="1.1"/>
<rect x="574.26" y="72.50" width="3.2" height="3.2" fill="#d2643c" fill-opacity="0.42" stroke="#d2643c" stroke-width="1.1"/>
<rect x="577.38" y="82.90" width="3.2" height="3.2" fill="#d2643c" fill-opacity="0.42" stroke="#d2643c" stroke-width="1.1"/>
<rect x="580.50" y="93.60" width="3.2" height="3.2" fill="#d2643c" fill-opacity="0.42" stroke="#d2643c" stroke-width="1.1"/>
<rect x="583.62" y="102.30" width="3.2" height="3.2" fill="#d2643c" fill-opacity="0.42" stroke="#d2643c" stroke-width="1.1"/>
<rect x="586.74" y="116.20" width="3.2" height="3.2" fill="#d2643c" fill-opacity="0.42" stroke="#d2643c" stroke-width="1.1"/>
<rect x="589.86" y="127.70" width="3.2" height="3.2" fill="#d2643c" fill-opacity="0.42" stroke="#d2643c" stroke-width="1.1"/>
<rect x="592.98" y="135.20" width="3.2" height="3.2" fill="#d2643c" fill-opacity="0.42" stroke="#d2643c" stroke-width="1.1"/>
<rect x="596.10" y="141.00" width="3.2" height="3.2" fill="#d2643c" fill-opacity="0.42" stroke="#d2643c" stroke-width="1.1"/>
<rect x="599.22" y="133.10" width="3.2" height="3.2" fill="#d2643c" fill-opacity="0.42" stroke="#d2643c" stroke-width="1.1"/>
<rect x="602.34" y="125.90" width="3.2" height="3.2" fill="#d2643c" fill-opacity="0.42" stroke="#d2643c" stroke-width="1.1"/>
<rect x="605.46" y="112.90" width="3.2" height="3.2" fill="#d2643c" fill-opacity="0.42" stroke="#d2643c" stroke-width="1.1"/>
<rect x="608.58" y="101.70" width="3.2" height="3.2" fill="#d2643c" fill-opacity="0.42" stroke="#d2643c" stroke-width="1.1"/>
<rect x="611.70" y="90.10" width="3.2" height="3.2" fill="#d2643c" fill-opacity="0.42" stroke="#d2643c" stroke-width="1.1"/>
<rect x="614.82" y="82.60" width="3.2" height="3.2" fill="#d2643c" fill-opacity="0.42" stroke="#d2643c" stroke-width="1.1"/>
<rect x="617.94" y="74.70" width="3.2" height="3.2" fill="#d2643c" fill-opacity="0.42" stroke="#d2643c" stroke-width="1.1"/>
<rect x="621.06" y="66.60" width="3.2" height="3.2" fill="#d2643c" fill-opacity="0.42" stroke="#d2643c" stroke-width="1.1"/>
<rect x="624.18" y="60.40" width="3.2" height="3.2" fill="#d2643c" fill-opacity="0.42" stroke="#d2643c" stroke-width="1.1"/>
<rect x="627.30" y="52.60" width="3.2" height="3.2" fill="#d2643c" fill-opacity="0.42" stroke="#d2643c" stroke-width="1.1"/>
<rect x="630.42" y="45.80" width="3.2" height="3.2" fill="#d2643c" fill-opacity="0.42" stroke="#d2643c" stroke-width="1.1"/>
<rect x="633.54" y="40.90" width="3.2" height="3.2" fill="#d2643c" fill-opacity="0.42" stroke="#d2643c" stroke-width="1.1"/>
<rect x="636.66" y="38.00" width="3.2" height="3.2" fill="#d2643c" fill-opacity="0.42" stroke="#d2643c" stroke-width="1.1"/>
<rect x="639.78" y="32.80" width="3.2" height="3.2" fill="#d2643c" fill-opacity="0.42" stroke="#d2643c" stroke-width="1.1"/>
<rect x="642.90" y="32.80" width="3.2" height="3.2" fill="#d2643c" fill-opacity="0.42" stroke="#d2643c" stroke-width="1.1"/>
<rect x="646.02" y="27.40" width="3.2" height="3.2" fill="#d2643c" fill-opacity="0.42" stroke="#d2643c" stroke-width="1.1"/>
<rect x="649.14" y="29.00" width="3.2" height="3.2" fill="#d2643c" fill-opacity="0.42" stroke="#d2643c" stroke-width="1.1"/>
<rect x="652.26" y="25.80" width="3.2" height="3.2" fill="#d2643c" fill-opacity="0.42" stroke="#d2643c" stroke-width="1.1"/>
<rect x="655.38" y="28.20" width="3.2" height="3.2" fill="#d2643c" fill-opacity="0.42" stroke="#d2643c" stroke-width="1.1"/>
<rect x="658.50" y="25.50" width="3.2" height="3.2" fill="#d2643c" fill-opacity="0.42" stroke="#d2643c" stroke-width="1.1"/>
<rect x="661.62" y="25.80" width="3.2" height="3.2" fill="#d2643c" fill-opacity="0.42" stroke="#d2643c" stroke-width="1.1"/>
<rect x="664.74" y="27.90" width="3.2" height="3.2" fill="#d2643c" fill-opacity="0.42" stroke="#d2643c" stroke-width="1.1"/>
<rect x="667.86" y="24.20" width="3.2" height="3.2" fill="#d2643c" fill-opacity="0.42" stroke="#d2643c" stroke-width="1.1"/>
<rect x="670.98" y="28.20" width="3.2" height="3.2" fill="#d2643c" fill-opacity="0.42" stroke="#d2643c" stroke-width="1.1"/>
<rect x="519.5" y="13.5" width="156.0" height="136.0" fill="none" stroke="#767676" stroke-width="1"/>
<line x1="558.50" y1="149.5" x2="558.50" y2="147.3" stroke="#767676" stroke-width="1"/>
<line x1="558.50" y1="13.5" x2="558.50" y2="15.7" stroke="#767676" stroke-width="1"/>
<line x1="597.50" y1="149.5" x2="597.50" y2="147.3" stroke="#767676" stroke-width="1"/>
<line x1="597.50" y1="13.5" x2="597.50" y2="15.7" stroke="#767676" stroke-width="1"/>
<line x1="636.50" y1="149.5" x2="636.50" y2="147.3" stroke="#767676" stroke-width="1"/>
<line x1="636.50" y1="13.5" x2="636.50" y2="15.7" stroke="#767676" stroke-width="1"/>
<line x1="519.5" y1="149.50" x2="521.7" y2="149.50" stroke="#767676" stroke-width="1"/>
<line x1="675.5" y1="149.50" x2="673.3" y2="149.50" stroke="#767676" stroke-width="1"/>
<text transform="translate(514.70,152.60) scale(0.95,1)" font-size="8.5" fill="#4a4a4a" text-anchor="end">0.5</text>
<line x1="519.5" y1="124.77" x2="521.7" y2="124.77" stroke="#767676" stroke-width="1"/>
<line x1="675.5" y1="124.77" x2="673.3" y2="124.77" stroke="#767676" stroke-width="1"/>
<text transform="translate(514.70,127.87) scale(0.95,1)" font-size="8.5" fill="#4a4a4a" text-anchor="end">0.6</text>
<line x1="519.5" y1="100.05" x2="521.7" y2="100.05" stroke="#767676" stroke-width="1"/>
<line x1="675.5" y1="100.05" x2="673.3" y2="100.05" stroke="#767676" stroke-width="1"/>
<text transform="translate(514.70,103.15) scale(0.95,1)" font-size="8.5" fill="#4a4a4a" text-anchor="end">0.7</text>
<line x1="519.5" y1="75.32" x2="521.7" y2="75.32" stroke="#767676" stroke-width="1"/>
<line x1="675.5" y1="75.32" x2="673.3" y2="75.32" stroke="#767676" stroke-width="1"/>
<text transform="translate(514.70,78.42) scale(0.95,1)" font-size="8.5" fill="#4a4a4a" text-anchor="end">0.8</text>
<line x1="519.5" y1="50.59" x2="521.7" y2="50.59" stroke="#767676" stroke-width="1"/>
<line x1="675.5" y1="50.59" x2="673.3" y2="50.59" stroke="#767676" stroke-width="1"/>
<text transform="translate(514.70,53.69) scale(0.95,1)" font-size="8.5" fill="#4a4a4a" text-anchor="end">0.9</text>
<line x1="519.5" y1="25.86" x2="521.7" y2="25.86" stroke="#767676" stroke-width="1"/>
<line x1="675.5" y1="25.86" x2="673.3" y2="25.86" stroke="#767676" stroke-width="1"/>
<text transform="translate(514.70,28.96) scale(0.95,1)" font-size="8.5" fill="#4a4a4a" text-anchor="end">1</text>
<text transform="translate(499.50,74.70) rotate(-90)" font-size="8.8" fill="#4a4a4a" text-anchor="middle">N.C.C.</text>
<text x="605.80" y="142.7" font-size="8.9" fill="#222">V</text>
<text x="610.80" y="145.30" font-size="4.5" fill="#222" textLength="11.60" lengthAdjust="spacingAndGlyphs">HOM</text>
<text x="622.40" y="142.7" font-size="8.9" fill="#222" textLength="50.90" lengthAdjust="spacingAndGlyphs">=46.7%±0.6%</text>
<rect x="518.10" y="160.40" width="3.2" height="3.2" fill="#d2643c" fill-opacity="0.42" stroke="#d2643c" stroke-width="1.1"/>
<rect x="521.22" y="164.30" width="3.2" height="3.2" fill="#d2643c" fill-opacity="0.42" stroke="#d2643c" stroke-width="1.1"/>
<rect x="524.34" y="164.30" width="3.2" height="3.2" fill="#d2643c" fill-opacity="0.42" stroke="#d2643c" stroke-width="1.1"/>
<rect x="527.46" y="167.30" width="3.2" height="3.2" fill="#d2643c" fill-opacity="0.42" stroke="#d2643c" stroke-width="1.1"/>
<rect x="530.58" y="167.30" width="3.2" height="3.2" fill="#d2643c" fill-opacity="0.42" stroke="#d2643c" stroke-width="1.1"/>
<rect x="533.70" y="167.70" width="3.2" height="3.2" fill="#d2643c" fill-opacity="0.42" stroke="#d2643c" stroke-width="1.1"/>
<rect x="536.82" y="167.30" width="3.2" height="3.2" fill="#d2643c" fill-opacity="0.42" stroke="#d2643c" stroke-width="1.1"/>
<rect x="539.94" y="167.30" width="3.2" height="3.2" fill="#d2643c" fill-opacity="0.42" stroke="#d2643c" stroke-width="1.1"/>
<rect x="543.06" y="168.60" width="3.2" height="3.2" fill="#d2643c" fill-opacity="0.42" stroke="#d2643c" stroke-width="1.1"/>
<rect x="546.18" y="171.80" width="3.2" height="3.2" fill="#d2643c" fill-opacity="0.42" stroke="#d2643c" stroke-width="1.1"/>
<rect x="549.30" y="174.50" width="3.2" height="3.2" fill="#d2643c" fill-opacity="0.42" stroke="#d2643c" stroke-width="1.1"/>
<rect x="552.42" y="176.60" width="3.2" height="3.2" fill="#d2643c" fill-opacity="0.42" stroke="#d2643c" stroke-width="1.1"/>
<rect x="555.54" y="179.60" width="3.2" height="3.2" fill="#d2643c" fill-opacity="0.42" stroke="#d2643c" stroke-width="1.1"/>
<rect x="558.66" y="183.90" width="3.2" height="3.2" fill="#d2643c" fill-opacity="0.42" stroke="#d2643c" stroke-width="1.1"/>
<rect x="561.78" y="188.80" width="3.2" height="3.2" fill="#d2643c" fill-opacity="0.42" stroke="#d2643c" stroke-width="1.1"/>
<rect x="564.90" y="195.10" width="3.2" height="3.2" fill="#d2643c" fill-opacity="0.42" stroke="#d2643c" stroke-width="1.1"/>
<rect x="568.02" y="199.90" width="3.2" height="3.2" fill="#d2643c" fill-opacity="0.42" stroke="#d2643c" stroke-width="1.1"/>
<rect x="571.14" y="207.70" width="3.2" height="3.2" fill="#d2643c" fill-opacity="0.42" stroke="#d2643c" stroke-width="1.1"/>
<rect x="574.26" y="216.00" width="3.2" height="3.2" fill="#d2643c" fill-opacity="0.42" stroke="#d2643c" stroke-width="1.1"/>
<rect x="577.38" y="225.00" width="3.2" height="3.2" fill="#d2643c" fill-opacity="0.42" stroke="#d2643c" stroke-width="1.1"/>
<rect x="580.50" y="233.80" width="3.2" height="3.2" fill="#d2643c" fill-opacity="0.42" stroke="#d2643c" stroke-width="1.1"/>
<rect x="583.62" y="244.00" width="3.2" height="3.2" fill="#d2643c" fill-opacity="0.42" stroke="#d2643c" stroke-width="1.1"/>
<rect x="586.74" y="253.10" width="3.2" height="3.2" fill="#d2643c" fill-opacity="0.42" stroke="#d2643c" stroke-width="1.1"/>
<rect x="589.86" y="261.00" width="3.2" height="3.2" fill="#d2643c" fill-opacity="0.42" stroke="#d2643c" stroke-width="1.1"/>
<rect x="592.98" y="271.70" width="3.2" height="3.2" fill="#d2643c" fill-opacity="0.42" stroke="#d2643c" stroke-width="1.1"/>
<rect x="596.10" y="273.50" width="3.2" height="3.2" fill="#d2643c" fill-opacity="0.42" stroke="#d2643c" stroke-width="1.1"/>
<rect x="599.22" y="267.90" width="3.2" height="3.2" fill="#d2643c" fill-opacity="0.42" stroke="#d2643c" stroke-width="1.1"/>
<rect x="602.34" y="258.20" width="3.2" height="3.2" fill="#d2643c" fill-opacity="0.42" stroke="#d2643c" stroke-width="1.1"/>
<rect x="605.46" y="246.70" width="3.2" height="3.2" fill="#d2643c" fill-opacity="0.42" stroke="#d2643c" stroke-width="1.1"/>
<rect x="608.58" y="238.70" width="3.2" height="3.2" fill="#d2643c" fill-opacity="0.42" stroke="#d2643c" stroke-width="1.1"/>
<rect x="611.70" y="228.30" width="3.2" height="3.2" fill="#d2643c" fill-opacity="0.42" stroke="#d2643c" stroke-width="1.1"/>
<rect x="614.82" y="220.10" width="3.2" height="3.2" fill="#d2643c" fill-opacity="0.42" stroke="#d2643c" stroke-width="1.1"/>
<rect x="617.94" y="210.70" width="3.2" height="3.2" fill="#d2643c" fill-opacity="0.42" stroke="#d2643c" stroke-width="1.1"/>
<rect x="621.06" y="202.00" width="3.2" height="3.2" fill="#d2643c" fill-opacity="0.42" stroke="#d2643c" stroke-width="1.1"/>
<rect x="624.18" y="197.30" width="3.2" height="3.2" fill="#d2643c" fill-opacity="0.42" stroke="#d2643c" stroke-width="1.1"/>
<rect x="627.30" y="189.40" width="3.2" height="3.2" fill="#d2643c" fill-opacity="0.42" stroke="#d2643c" stroke-width="1.1"/>
<rect x="630.42" y="185.80" width="3.2" height="3.2" fill="#d2643c" fill-opacity="0.42" stroke="#d2643c" stroke-width="1.1"/>
<rect x="633.54" y="182.20" width="3.2" height="3.2" fill="#d2643c" fill-opacity="0.42" stroke="#d2643c" stroke-width="1.1"/>
<rect x="636.66" y="176.90" width="3.2" height="3.2" fill="#d2643c" fill-opacity="0.42" stroke="#d2643c" stroke-width="1.1"/>
<rect x="639.78" y="174.10" width="3.2" height="3.2" fill="#d2643c" fill-opacity="0.42" stroke="#d2643c" stroke-width="1.1"/>
<rect x="642.90" y="172.00" width="3.2" height="3.2" fill="#d2643c" fill-opacity="0.42" stroke="#d2643c" stroke-width="1.1"/>
<rect x="646.02" y="169.90" width="3.2" height="3.2" fill="#d2643c" fill-opacity="0.42" stroke="#d2643c" stroke-width="1.1"/>
<rect x="649.14" y="169.90" width="3.2" height="3.2" fill="#d2643c" fill-opacity="0.42" stroke="#d2643c" stroke-width="1.1"/>
<rect x="652.26" y="166.70" width="3.2" height="3.2" fill="#d2643c" fill-opacity="0.42" stroke="#d2643c" stroke-width="1.1"/>
<rect x="655.38" y="166.70" width="3.2" height="3.2" fill="#d2643c" fill-opacity="0.42" stroke="#d2643c" stroke-width="1.1"/>
<rect x="658.50" y="166.70" width="3.2" height="3.2" fill="#d2643c" fill-opacity="0.42" stroke="#d2643c" stroke-width="1.1"/>
<rect x="661.62" y="167.30" width="3.2" height="3.2" fill="#d2643c" fill-opacity="0.42" stroke="#d2643c" stroke-width="1.1"/>
<rect x="664.74" y="163.90" width="3.2" height="3.2" fill="#d2643c" fill-opacity="0.42" stroke="#d2643c" stroke-width="1.1"/>
<rect x="667.86" y="164.60" width="3.2" height="3.2" fill="#d2643c" fill-opacity="0.42" stroke="#d2643c" stroke-width="1.1"/>
<rect x="670.98" y="163.10" width="3.2" height="3.2" fill="#d2643c" fill-opacity="0.42" stroke="#d2643c" stroke-width="1.1"/>
<rect x="519.5" y="149.5" width="156.0" height="135.89999999999998" fill="none" stroke="#767676" stroke-width="1"/>
<line x1="558.50" y1="285.4" x2="558.50" y2="283.2" stroke="#767676" stroke-width="1"/>
<line x1="558.50" y1="149.5" x2="558.50" y2="151.7" stroke="#767676" stroke-width="1"/>
<line x1="597.50" y1="285.4" x2="597.50" y2="283.2" stroke="#767676" stroke-width="1"/>
<line x1="597.50" y1="149.5" x2="597.50" y2="151.7" stroke="#767676" stroke-width="1"/>
<line x1="636.50" y1="285.4" x2="636.50" y2="283.2" stroke="#767676" stroke-width="1"/>
<line x1="636.50" y1="149.5" x2="636.50" y2="151.7" stroke="#767676" stroke-width="1"/>
<line x1="519.5" y1="285.40" x2="521.7" y2="285.40" stroke="#767676" stroke-width="1"/>
<line x1="675.5" y1="285.40" x2="673.3" y2="285.40" stroke="#767676" stroke-width="1"/>
<text transform="translate(514.70,288.50) scale(0.95,1)" font-size="8.5" fill="#4a4a4a" text-anchor="end">0.5</text>
<line x1="519.5" y1="260.69" x2="521.7" y2="260.69" stroke="#767676" stroke-width="1"/>
<line x1="675.5" y1="260.69" x2="673.3" y2="260.69" stroke="#767676" stroke-width="1"/>
<text transform="translate(514.70,263.79) scale(0.95,1)" font-size="8.5" fill="#4a4a4a" text-anchor="end">0.6</text>
<line x1="519.5" y1="235.98" x2="521.7" y2="235.98" stroke="#767676" stroke-width="1"/>
<line x1="675.5" y1="235.98" x2="673.3" y2="235.98" stroke="#767676" stroke-width="1"/>
<text transform="translate(514.70,239.08) scale(0.95,1)" font-size="8.5" fill="#4a4a4a" text-anchor="end">0.7</text>
<line x1="519.5" y1="211.27" x2="521.7" y2="211.27" stroke="#767676" stroke-width="1"/>
<line x1="675.5" y1="211.27" x2="673.3" y2="211.27" stroke="#767676" stroke-width="1"/>
<text transform="translate(514.70,214.37) scale(0.95,1)" font-size="8.5" fill="#4a4a4a" text-anchor="end">0.8</text>
<line x1="519.5" y1="186.56" x2="521.7" y2="186.56" stroke="#767676" stroke-width="1"/>
<line x1="675.5" y1="186.56" x2="673.3" y2="186.56" stroke="#767676" stroke-width="1"/>
<text transform="translate(514.70,189.66) scale(0.95,1)" font-size="8.5" fill="#4a4a4a" text-anchor="end">0.9</text>
<line x1="519.5" y1="161.85" x2="521.7" y2="161.85" stroke="#767676" stroke-width="1"/>
<line x1="675.5" y1="161.85" x2="673.3" y2="161.85" stroke="#767676" stroke-width="1"/>
<text transform="translate(514.70,164.95) scale(0.95,1)" font-size="8.5" fill="#4a4a4a" text-anchor="end">1</text>
<text transform="translate(520.40,295.8) scale(0.93,1)" font-size="8.5" fill="#4a4a4a" text-anchor="middle">-1000</text>
<text transform="translate(559.40,295.8) scale(0.93,1)" font-size="8.5" fill="#4a4a4a" text-anchor="middle">-500</text>
<text transform="translate(597.50,295.8) scale(0.93,1)" font-size="8.5" fill="#4a4a4a" text-anchor="middle">0</text>
<text transform="translate(636.50,295.8) scale(0.93,1)" font-size="8.5" fill="#4a4a4a" text-anchor="middle">500</text>
<text transform="translate(675.50,295.8) scale(0.93,1)" font-size="8.5" fill="#4a4a4a" text-anchor="middle">1000</text>
<text x="598.30" y="304.7" font-size="9.2" fill="#4a4a4a" text-anchor="middle">Relative delay (ps)</text>
<text transform="translate(499.50,210.65) rotate(-90)" font-size="8.8" fill="#4a4a4a" text-anchor="middle">N.C.C.</text>
<text x="606.40" y="278.9" font-size="8.9" fill="#222">V</text>
<text x="611.40" y="281.50" font-size="4.5" fill="#222" textLength="11.00" lengthAdjust="spacingAndGlyphs">BSM</text>
<text x="622.40" y="278.9" font-size="8.9" fill="#222" textLength="50.90" lengthAdjust="spacingAndGlyphs">=45.6%±0.4%</text>
<text x="410.75" y="8.9" font-size="10.6" fill="#3b9a4c" text-anchor="middle">I: Chaotic state</text>
<text x="597.50" y="8.9" font-size="10.6" fill="#d2643c" text-anchor="middle">II: 4-soliton state</text>
<text x="306.70" y="10.7" font-size="14" font-weight="bold" fill="#111" stroke="#111" stroke-width="0.35">b</text>
<text x="306.70" y="160.0" font-size="14" font-weight="bold" fill="#111" stroke="#111" stroke-width="0.35">c</text>
<text x="493.10" y="10.7" font-size="14" font-weight="bold" fill="#111" stroke="#111" stroke-width="0.35">d</text>
<text x="493.00" y="159.0" font-size="14" font-weight="bold" fill="#111" stroke="#111" stroke-width="0.35">e</text>
</svg>
</body></html>
